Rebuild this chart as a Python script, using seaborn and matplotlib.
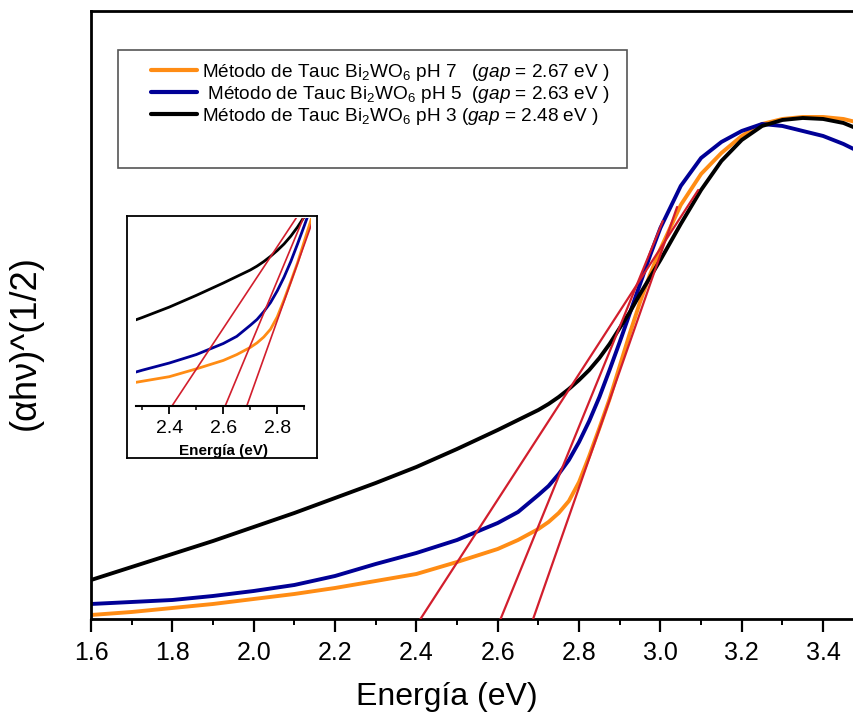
import pandas as pd
import matplotlib
matplotlib.use("Agg")
import matplotlib.pyplot as plt
import seaborn as sns
from matplotlib.lines import Line2D
from matplotlib.patches import Rectangle
from matplotlib.ticker import MultipleLocator, FormatStrFormatter

# Datos (unidades arbitrarias en y)
energia = [1.60, 1.70, 1.80, 1.90, 2.00, 2.10, 2.20, 2.30, 2.40, 2.50,
           2.60, 2.65, 2.70, 2.725, 2.75, 2.775, 2.80, 2.825, 2.85, 2.875,
           2.90, 2.925, 2.95, 2.975, 3.00, 3.05, 3.10, 3.15, 3.20, 3.25,
           3.30, 3.35, 3.40, 3.45, 3.48]
ph7 = [0.04, 0.07, 0.11, 0.15, 0.20, 0.25, 0.31, 0.38, 0.45, 0.57,
       0.70, 0.79, 0.90, 0.97, 1.06, 1.18, 1.37, 1.63, 1.91, 2.20,
       2.53, 2.86, 3.17, 3.45, 3.70, 4.14, 4.45, 4.66, 4.83, 4.95,
       5.00, 5.02, 5.02, 5.00, 4.97]
ph5 = [0.15, 0.17, 0.19, 0.23, 0.28, 0.34, 0.43, 0.55, 0.66, 0.79,
       0.96, 1.07, 1.24, 1.33, 1.45, 1.59, 1.77, 1.98, 2.22, 2.49,
       2.77, 3.06, 3.35, 3.64, 3.91, 4.33, 4.61, 4.77, 4.88, 4.95,
       4.93, 4.88, 4.83, 4.75, 4.69]
ph3 = [0.39, 0.52, 0.65, 0.78, 0.92, 1.06, 1.21, 1.36, 1.52, 1.70,
       1.89, 1.99, 2.09, 2.15, 2.22, 2.30, 2.39, 2.49, 2.61, 2.75,
       2.91, 3.07, 3.25, 3.42, 3.59, 3.95, 4.29, 4.58, 4.79, 4.93,
       4.99, 5.01, 5.00, 4.96, 4.91]

muestras = ['pH 7', 'pH 5', 'pH 3']
colores = ['#ff8c14', '#000096', '#000000']
etiquetas = [
    r'Método de Tauc Bi$_2$WO$_6$ pH 7   ($\mathit{gap}$ = 2.67 eV )',
    r' Método de Tauc Bi$_2$WO$_6$ pH 5  ($\mathit{gap}$ = 2.63 eV )',
    r'Método de Tauc Bi$_2$WO$_6$ pH 3 ($\mathit{gap}$ = 2.48 eV )',
]

# rectas tangentes (corte con el eje x -> punto final)
tang_x0 = [2.41, 2.607, 2.687]
tang_x1 = [3.093, 3.006, 3.041]
tang_y1 = [4.29, 3.98, 4.12]
color_tang = '#d21e2d'

df = pd.DataFrame({
    'energia': energia * 3,
    'valor': ph7 + ph5 + ph3,
    'muestra': [m for m in muestras for _ in energia],
})

sns.set_style("white")
plt.rcParams['font.family'] = ['Liberation Sans', 'DejaVu Sans']
plt.rcParams['mathtext.fontset'] = 'custom'
plt.rcParams['mathtext.rm'] = 'Liberation Sans'
plt.rcParams['mathtext.it'] = 'Liberation Sans:italic'
plt.rcParams['mathtext.bf'] = 'Liberation Sans:bold'
plt.rcParams['text.color'] = 'black'
plt.rcParams['axes.labelcolor'] = 'black'
plt.rcParams['xtick.color'] = 'black'

fig = plt.figure(figsize=(8.54, 7.17), dpi=100)
ax = fig.add_axes([0.1066, 0.1367, 0.8934, 0.848])

sns.lineplot(data=df, x='energia', y='valor', hue='muestra', hue_order=muestras,
             palette=colores, linewidth=2.8, legend=False, ax=ax)
for x0, x1, y1 in zip(tang_x0, tang_x1, tang_y1):
    ax.plot([x0, x1], [0, y1], color=color_tang, lw=1.6, zorder=4)

ax.set_xlim(1.6, 3.476)
ax.set_ylim(0, 6.08)
ax.set_yticks([])
ax.xaxis.set_major_locator(MultipleLocator(0.2))
ax.xaxis.set_minor_locator(MultipleLocator(0.1))
ax.xaxis.set_major_formatter(FormatStrFormatter('%.1f'))
ax.tick_params(axis='x', which='major', direction='out', length=9, width=1.6,
               labelsize=18, pad=7, bottom=True)
ax.tick_params(axis='x', which='minor', direction='out', length=4, width=1.4, bottom=True)
ax.spines['right'].set_visible(False)
for s in ['left', 'top', 'bottom']:
    ax.spines[s].set_linewidth(2)
    ax.spines[s].set_color('black')

ax.set_xlabel('Energía (eV)', fontsize=23)
ax.xaxis.set_label_coords(0.4666, -0.103)
ax.set_ylabel('(αhν)^(1/2)', fontsize=26)
ax.yaxis.set_label_coords(-0.063, 0.454)

# leyenda con recuadro propio
handles = [Line2D([], [], color=c, lw=3) for c in colores]
ax.legend(handles, etiquetas, loc='upper left', bbox_to_anchor=(0.079, 0.916),
          frameon=False, fontsize=13.7, handlelength=2.4, handletextpad=0.25,
          labelspacing=0.05, borderpad=0, borderaxespad=0)
ax.add_patch(Rectangle((0.0354, 0.7418), 0.667, 0.194, transform=ax.transAxes,
                       fill=False, edgecolor='#555555', lw=1.2, zorder=5))

# recuadro del inset
marco = fig.add_axes([0.1483, 0.3612, 0.2225, 0.3375])
marco.set_xticks([])
marco.set_yticks([])
marco.set_facecolor('white')
for s in marco.spines.values():
    s.set_linewidth(1.3)
    s.set_color('black')

ins = fig.add_axes([0.1589, 0.4338, 0.2053, 0.2622])
ins.set_facecolor('none')
sns.lineplot(data=df, x='energia', y='valor', hue='muestra', hue_order=muestras,
             palette=colores, linewidth=2.0, legend=False, ax=ins)
for x0, x1, y1 in zip(tang_x0, tang_x1, tang_y1):
    ins.plot([x0, x1], [0, y1], color=color_tang, lw=1.2)
ins.set_xlim(2.2756, 2.925)
ins.set_ylim(0, 2.89)
ins.set_yticks([])
for s in ['left', 'top', 'right']:
    ins.spines[s].set_visible(False)
ins.spines['bottom'].set_bounds(2.2756, 2.9)
ins.spines['bottom'].set_linewidth(1.5)
ins.spines['bottom'].set_color('black')
ins.xaxis.set_major_locator(MultipleLocator(0.2))
ins.xaxis.set_minor_locator(MultipleLocator(0.1))
ins.xaxis.set_major_formatter(FormatStrFormatter('%.1f'))
ins.tick_params(axis='x', which='major', direction='out', length=6, width=1.3,
                labelsize=14, pad=4, bottom=True)
ins.tick_params(axis='x', which='minor', direction='out', length=3, width=1.1, bottom=True)
ins.set_xlabel('Energía (eV)', fontsize=11, fontweight='bold', labelpad=5)
ins.set_ylabel('')

fig.savefig('out.png', dpi=100, facecolor='white')
